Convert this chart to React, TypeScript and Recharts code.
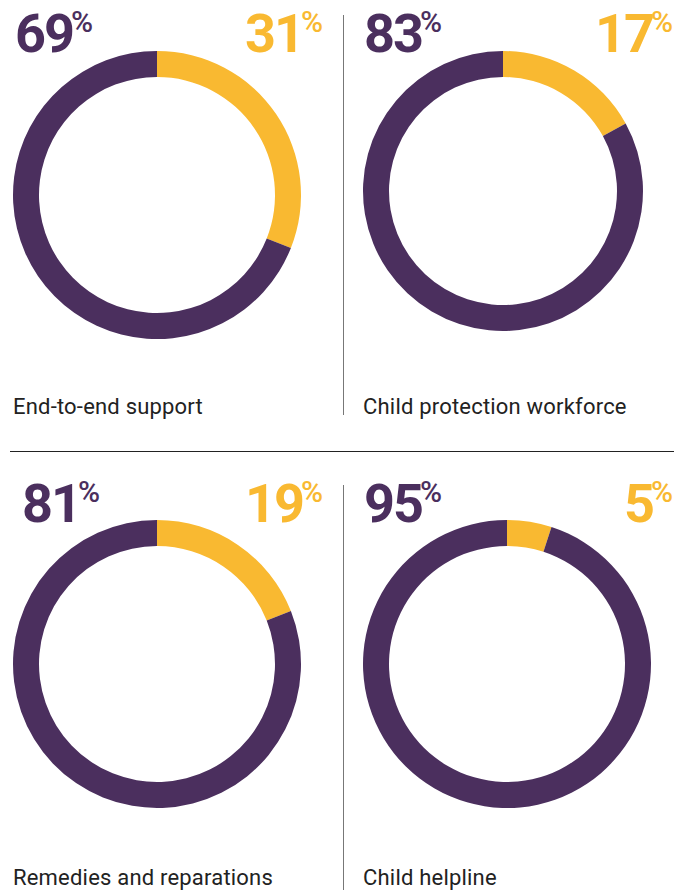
import { PieChart, Pie, Cell } from "recharts"

const categories = ["End-to-end support", "Child protection workforce", "Remedies and reparations", "Child helpline"]
const noShare = [69, 83, 81, 95]
const yesShare = [31, 17, 19, 5]

const PURPLE = "#4b2f5e"
const YELLOW = "#f9b931"
const FONT = "Roboto, 'Liberation Sans', sans-serif"

// panel placement: ring centre, radius, text anchors
const panels = [
    { cx: 157, cy: 195, r: 144, numX: 15, rightX: 323, numY: 4, labelX: 13, labelY: 394 },
    { cx: 503, cy: 191, r: 140, numX: 364, rightX: 673, numY: 4, labelX: 363, labelY: 394 },
    { cx: 157, cy: 664, r: 144, numX: 22, rightX: 323, numY: 474, labelX: 13, labelY: 865 },
    { cx: 507, cy: 664, r: 144, numX: 364, rightX: 673, numY: 474, labelX: 363, labelY: 865 },
]

function Pct({ value, color, style }: { value: number; color: string; style: React.CSSProperties }) {
    return (
        <div style={{ position: "absolute", color, fontFamily: FONT, fontWeight: 700, whiteSpace: "nowrap", ...style }}>
            <span style={{ fontSize: 54, letterSpacing: -2, lineHeight: "54px" }}>{value}</span>
            <span style={{ fontSize: 30, fontWeight: 500, verticalAlign: 20, marginLeft: -2 }}>%</span>
        </div>
    )
}

export default function App() {
    return (
        <div style={{ position: "absolute", left: 0, top: 0, width: 688, height: 890, background: "#fff", overflow: "hidden" }}>
            {panels.map((p, i) => {
                const data = [
                    { name: "yes", value: yesShare[i] },
                    { name: "no", value: noShare[i] },
                ]
                const size = p.r * 2 + 4
                return (
                    <div key={i}>
                        <div style={{ position: "absolute", left: p.cx - size / 2, top: p.cy - size / 2 }}>
                            <PieChart width={size} height={size}>
                                <Pie
                                    data={data}
                                    dataKey="value"
                                    cx="50%"
                                    cy="50%"
                                    innerRadius={p.r - 26}
                                    outerRadius={p.r}
                                    startAngle={90}
                                    endAngle={-270}
                                    stroke="none"
                                    isAnimationActive={false}
                                >
                                    <Cell fill={YELLOW} />
                                    <Cell fill={PURPLE} />
                                </Pie>
                            </PieChart>
                        </div>
                        <Pct value={noShare[i]} color={PURPLE} style={{ left: p.numX, top: p.numY }} />
                        <Pct value={yesShare[i]} color={YELLOW} style={{ right: 688 - p.rightX, top: p.numY }} />
                        <div style={{ position: "absolute", left: p.labelX, top: p.labelY, fontFamily: FONT, fontSize: 22, letterSpacing: 0.2, color: "#222", whiteSpace: "nowrap" }}>
                            {categories[i]}
                        </div>
                    </div>
                )
            })}
            <div style={{ position: "absolute", left: 343, top: 15, width: 1, height: 400, background: "#777" }} />
            <div style={{ position: "absolute", left: 343, top: 485, width: 1, height: 405, background: "#777" }} />
            <div style={{ position: "absolute", left: 10, top: 451, width: 664, height: 1, background: "#222" }} />
        </div>
    )
}
